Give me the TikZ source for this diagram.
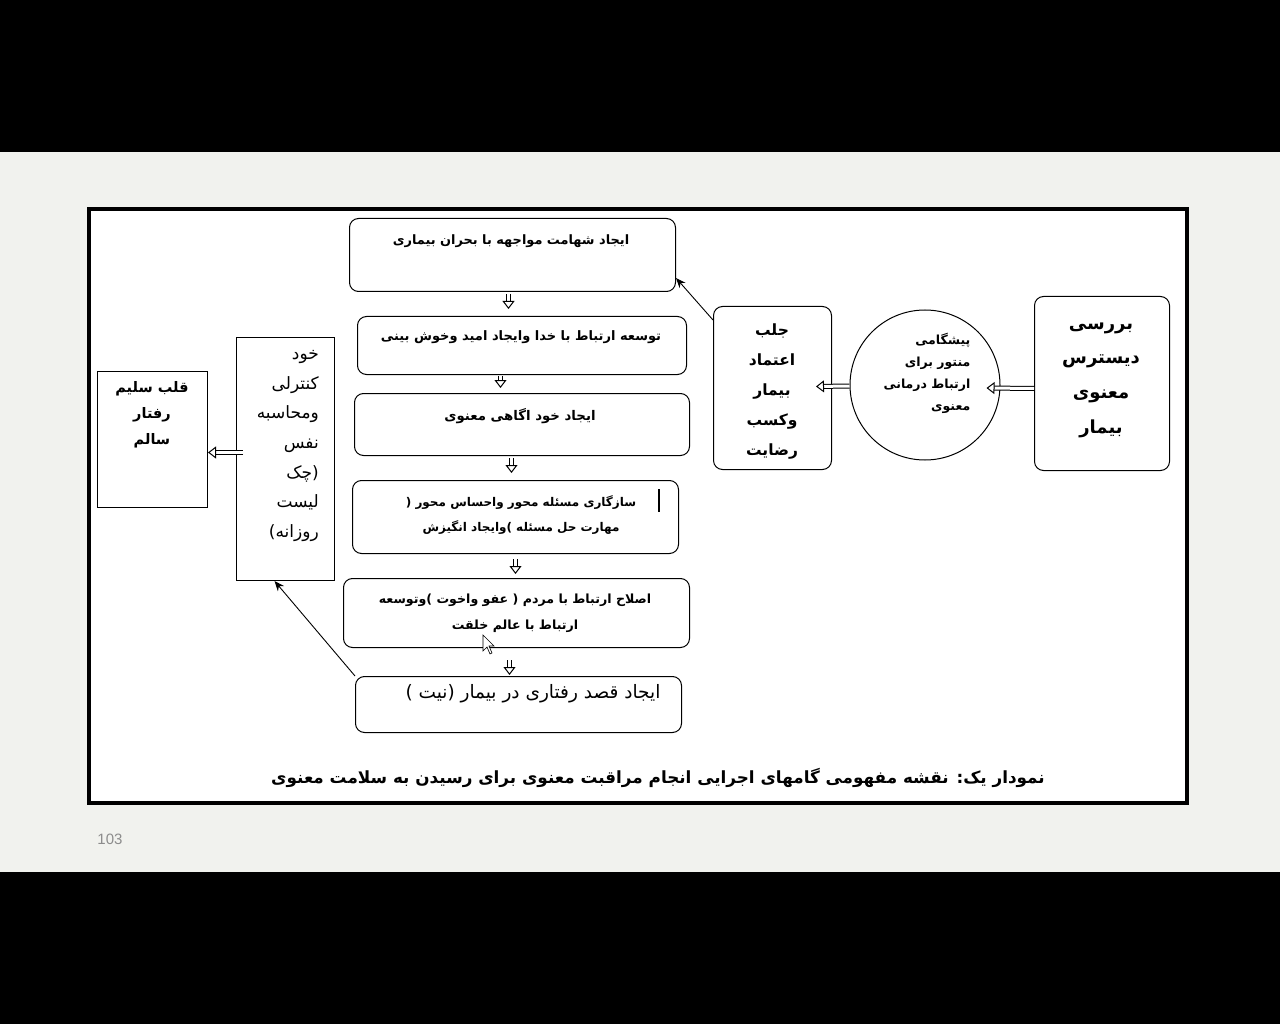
\documentclass[tikz,border=0pt]{standalone}
\usepackage{fontspec}
\setmainfont{Liberation Sans}
\newfontfamily\fa[Script=Arabic]{DejaVu Sans}
\TeXXeTstate=1
\usetikzlibrary{arrows.meta,positioning}
\newcommand{\rl}[1]{\beginR #1\endR}
\definecolor{pagebg}{HTML}{F1F2EE}

\tikzset{
  stepbox/.style={draw, rounded corners=9pt, line width=1pt, inner sep=0, anchor=north west},
  plainbox/.style={draw, line width=1pt, inner sep=0, anchor=north west},
  fatext/.style={font=\fa\fontsize{13}{15}\selectfont\bfseries, align=center, inner sep=0},
  hollow/.style={double, double distance=3pt, line width=1pt,
    -{Triangle[open, length=8pt, width=12pt, line width=1pt]}},
  pointer/.style={-{Stealth[length=10pt,width=8pt]}, line width=0.9pt},
}

\begin{document}
\begin{tikzpicture}[x=1pt,y=-1pt]
	\useasboundingbox (0,0) rectangle (1280,1024);
	\fill[black] (0,0) rectangle (1280,152);
	\fill[black] (0,872) rectangle (1280,1024);
	\fill[pagebg] (0,152) rectangle (1280,872);
	\draw[line width=3.5pt, fill=white] (89,209) rectangle (1187,803);
	\node[text=black!45, font=\fontsize{15}{17}\selectfont] (pagenum) at (110,839) {103};

	% middle column
	\node[stepbox, minimum width=326, minimum height=73] (courage) at (349,218) {};
	\node[stepbox, minimum width=329, minimum height=58] (hope) at (357,316) {};
	\node[stepbox, minimum width=335, minimum height=62] (aware) at (354,393) {};
	\node[stepbox, minimum width=326, minimum height=73] (adapt) at (352,480) {};
	\node[stepbox, minimum width=346, minimum height=69] (reform) at (343,578) {};
	\node[stepbox, minimum width=326, minimum height=56] (intent) at (355,676) {};
	\node[fatext, font=\fa\fontsize{12.9}{15}\selectfont\bfseries] (courage-t) at (511,241) {\rl{ایجاد شهامت مواجهه با بحران بیماری}};
	\node[fatext] (hope-t) at (521,337) {\rl{توسعه ارتباط با خدا وایجاد امید وخوش بینی}};
	\node[fatext, font=\fa\fontsize{13.3}{15}\selectfont\bfseries] (aware-t) at (520,416) {\rl{ایجاد خود اگاهی معنوی}};
	\node[fatext, font=\fa\fontsize{12}{25}\selectfont\bfseries] (adapt-t) at (521,515)
		{\rl{سازگاری مسئله محور واحساس محور (}\\\rl{مهارت حل مسئله )وایجاد انگیزش}};
	\draw[line width=1.2pt] (659,489) -- (659,512);
	\node[fatext, font=\fa\fontsize{12.6}{26}\selectfont\bfseries] (reform-t) at (515,613)
		{\rl{اصلاح ارتباط با مردم ( عفو واخوت )وتوسعه}\\\rl{ارتباط با عالم خلقت}};
	\node[fatext, font=\fa\fontsize{18.5}{20}\selectfont] (intent-t) at (533,694) {\rl{ایجاد قصد رفتاری در بیمار (نیت )}};
	\draw[fill=white, line width=0.6pt] (483,635) -- (483,651) -- (487,647) -- (490,654) -- (492,653) -- (489,646) -- (494,646) -- cycle;

	% left side
	\node[plainbox, minimum width=98, minimum height=243] (selfctl) at (236,337) {};
	\node[fatext, anchor=east, align=right, font=\fa\fontsize{17}{29.7}\selectfont] (selfctl-t) at (319,446)
		{\rl{خود}\\\rl{کنترلی}\\\rl{ومحاسبه}\\\rl{نفس}\\\rl{(چک}\\\rl{لیست}\\\rl{روزانه)}};
	\node[plainbox, minimum width=110, minimum height=136] (heart) at (97,371) {};
	\node[fatext, font=\fa\fontsize{14.5}{26}\selectfont\bfseries] (heart-t) at (152,415)
		{\rl{قلب سلیم}\\\rl{رفتار}\\\rl{سالم}};

	% right side
	\node[stepbox, minimum width=118, minimum height=163] (trust) at (713,306) {};
	\node[fatext, font=\fa\fontsize{15.5}{30}\selectfont\bfseries] (trust-t) at (772,392)
		{\rl{جلب}\\\rl{اعتماد}\\\rl{بیمار}\\\rl{وکسب}\\\rl{رضایت}};
	\node[draw, circle, line width=1pt, minimum size=150] (circ) at (925,385) {};
	\node[fatext, align=right, font=\fa\fontsize{12.5}{22}\selectfont\bfseries] (circ-t) at (927,373)
		{\rl{پیشگامی}\\\rl{منتور برای}\\\rl{ارتباط درمانی}\\\rl{معنوی}};
	\node[stepbox, minimum width=135, minimum height=174] (review) at (1034,296) {};
	\node[fatext, font=\fa\fontsize{18}{34.7}\selectfont\bfseries] (review-t) at (1101,380)
		{\rl{بررسی}\\\rl{دیسترس}\\\rl{معنوی}\\\rl{بیمار}};

	% caption
	\node[fatext, font=\fa\fontsize{16.8}{18}\selectfont\bfseries] (caption) at (658,778)
		{\rl{نمودار یک: نقشه مفهومی گامهای اجرایی انجام مراقبت معنوی برای رسیدن به سلامت معنوی}};

	% connectors
	\draw[pointer] ([yshift=-14pt]trust.north west) -- ([yshift=14pt]courage.south east);
	\draw[pointer] (intent.north west) -- ([xshift=-11pt]selfctl.south);
	\draw[hollow] ([yshift=-5pt]review.west) -- ([xshift=-14pt,yshift=-3pt]circ.east);
	\draw[hollow] ([yshift=-1pt]circ.west) -- ([xshift=-16pt,yshift=1.5pt]trust.east);
	\draw[hollow] ([xshift=7pt,yshift=6.5pt]selfctl.west) -- ([yshift=-13pt]heart.east);
	\draw[hollow] ([xshift=-4pt,yshift=-2pt]courage.south) -- ([xshift=-13.5pt,yshift=7pt]hope.north);
	\draw[hollow] ([xshift=-21.5pt,yshift=-1pt]hope.south) -- ([xshift=-21.5pt,yshift=5pt]aware.north);
	\draw[hollow] ([xshift=-10.5pt,yshift=-2pt]aware.south) -- ([xshift=-4pt,yshift=7pt]adapt.north);
	\draw[hollow] ([yshift=-5pt]adapt.south) -- ([xshift=-1pt,yshift=4pt]reform.north);
	\draw[hollow] ([xshift=-7pt,yshift=-12pt]reform.south) -- ([xshift=-9pt,yshift=1pt]intent.north);
\end{tikzpicture}
\end{document}
